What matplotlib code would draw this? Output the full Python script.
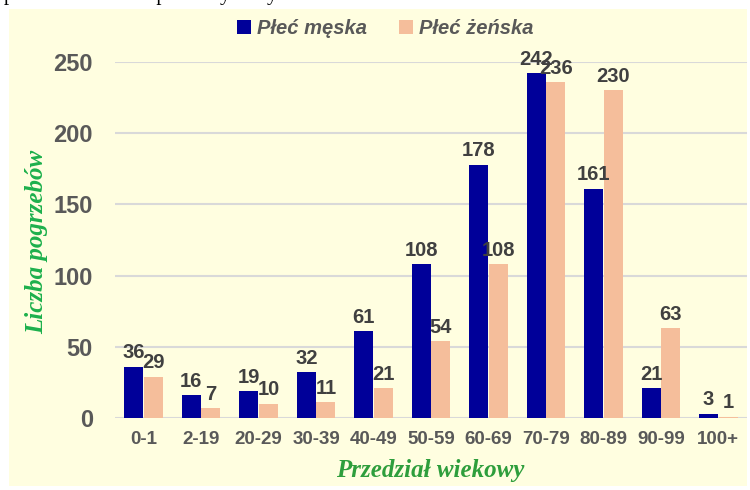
import numpy as np
import matplotlib.pyplot as plt
from matplotlib.patches import Rectangle

# age groups and number of burials
groups = ["0-1", "2-19", "20-29", "30-39", "40-49", "50-59", "60-69", "70-79", "80-89", "90-99", "100+"]
male = [36, 16, 19, 32, 61, 108, 178, 242, 161, 21, 3]
female = [29, 7, 10, 11, 21, 54, 108, 236, 230, 63, 1]

c_male = "#000099"
c_female = "#F5BE9B"
grey = "#595959"

fig = plt.figure(figsize=(7.5, 4.9), dpi=100)
fig.patch.set_facecolor("white")

# yellow chart area
fig.patches.append(Rectangle((9 / 750, 4 / 490), 738 / 750, 477 / 490,
                             transform=fig.transFigure, facecolor="#FFFEE0",
                             edgecolor="none", zorder=-5))
fig.text(0.005, 1.0 + 5 / 490, "przedstawiono na poniższym wykresie.", fontsize=15,
         family="Liberation Serif", va="center", ha="left")

ax = fig.add_axes([115 / 750, 1 - 418 / 490, 632 / 750, 356 / 490])
ax.set_facecolor("none")

x = np.arange(len(groups))
w = 0.33
b1 = ax.bar(x - 0.17, male, w, color=c_male, label="Płeć męska", zorder=3)
b2 = ax.bar(x + 0.17, female, w, color=c_female, label="Płeć żeńska", zorder=3)

for bars in (b1, b2):
    for r in bars:
        ax.text(r.get_x() + r.get_width() / 2, r.get_height() + 3, str(int(r.get_height())),
                ha="center", va="bottom", fontsize=14.5, fontweight="bold",
                color="#404040", family="Liberation Sans", clip_on=False)

ax.set_xlim(-0.5, len(groups) - 0.5)
ax.set_ylim(0, 250)
ax.set_yticks([0, 50, 100, 150, 200, 250])
ax.grid(axis="y", color="#D9D9D9", linewidth=1.5, zorder=0)
ax.set_axisbelow(True)
for s in ax.spines.values():
    s.set_visible(False)
ax.tick_params(length=0)
ax.set_xticks(x)
ax.set_xticklabels(groups)
for lab in ax.get_xticklabels():
    lab.set_fontsize(13.5)
    lab.set_fontweight("bold")
    lab.set_color(grey)
    lab.set_family("Liberation Sans")
for lab in ax.get_yticklabels():
    lab.set_fontsize(17)
    lab.set_fontweight("bold")
    lab.set_color(grey)
    lab.set_family("Liberation Sans")
ax.tick_params(axis="x", pad=9)
ax.tick_params(axis="y", pad=16)

fig.text(430 / 750, 1 - 470 / 490, "Przedział wiekowy", ha="center", va="center",
         fontsize=18, fontweight="bold", style="italic", color="#2E9E3C",
         family="Liberation Serif")
fig.text(37 / 750, 1 - 242 / 490, "Liczba pogrzebów", ha="center", va="center",
         rotation=90, fontsize=18, fontweight="bold", style="italic",
         color="#1DB04C", family="Liberation Serif")

leg = fig.legend(loc="center", bbox_to_anchor=(385 / 750, 1 - 29 / 490), ncol=2,
                 frameon=False, handlelength=0.7, handleheight=0.7,
                 handletextpad=0.3, columnspacing=1.6,
                 prop={"family": "Liberation Sans", "size": 14.5, "weight": "bold", "style": "italic"})
for t in leg.get_texts():
    t.set_color(grey)

fig.savefig("out.png", dpi=100)
